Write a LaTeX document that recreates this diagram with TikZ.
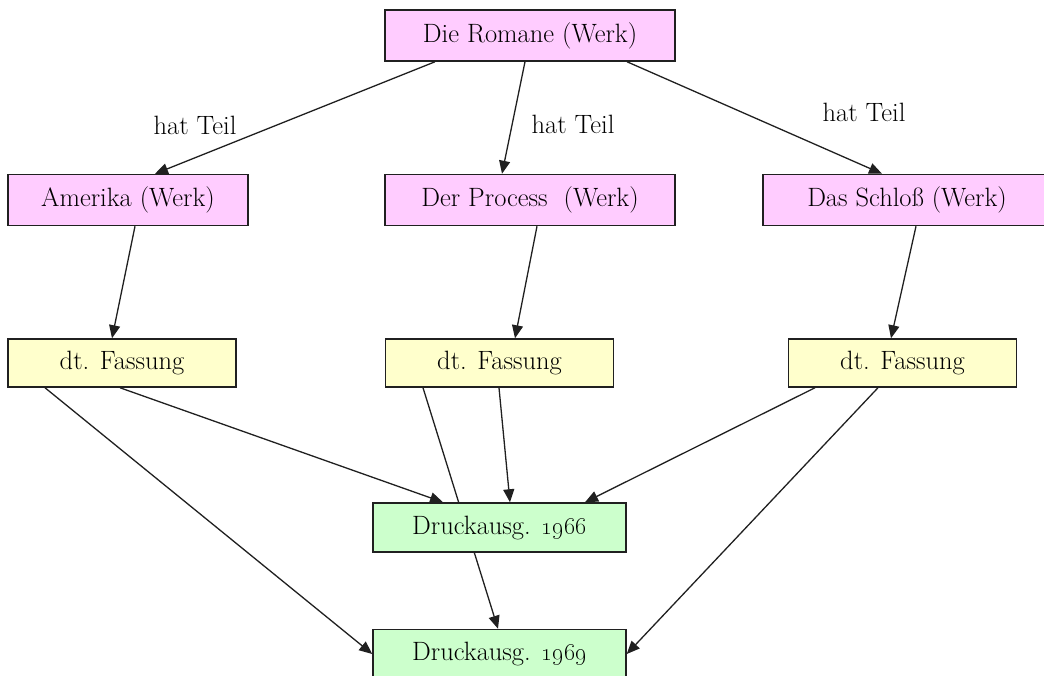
\documentclass[tikz,border=0pt]{standalone}
\usepackage{xcolor}
\usepackage{tikz}
\usetikzlibrary{arrows.meta,backgrounds}
\definecolor{CFFCCFF}{HTML}{FFCCFF}
\definecolor{CFFFFCC}{HTML}{FFFFCC}
\definecolor{CCCFFCC}{HTML}{CCFFCC}
\definecolor{C202020}{HTML}{202020}

\begin{document}
\begin{tikzpicture}[inner sep=0pt,
  box/.style={draw=C202020, line width=1.5pt, shape=rectangle, align=center, font=\fontsize{26.5}{30}\selectfont},
  werk/.style={box, fill=CFFCCFF, minimum height=51pt},
  fassung/.style={box, fill=CFFFFCC, minimum height=48pt, minimum width=228pt},
  druck/.style={box, fill=CCCFFCC, minimum height=49pt, minimum width=253pt},
  lbl/.style={font=\fontsize{26.5}{30}\selectfont},
  edge/.style={-{Triangle[length=13pt,width=11pt]}, line width=1.3pt, draw=C202020}]
\useasboundingbox (0pt,0pt) rectangle (1044pt,-675pt);

\node (n0) [werk, minimum width=290pt, at={(530pt,-35.5pt)}] {Die Romane (Werk)};
\node (n1) [werk, minimum width=240pt, at={(128pt,-200pt)}] {Amerika (Werk)};
\node (n2) [werk, minimum width=290pt, at={(530pt,-200pt)}] {Der Process\ \ (Werk)};
\node (n3) [werk, minimum width=288pt, at={(907pt,-200pt)}] {Das Schloß (Werk)};
\node (n4) [fassung, at={(122pt,-363pt)}] {dt. Fassung};
\node (n5) [fassung, at={(499.5pt,-363pt)}] {dt. Fassung};
\node (n6) [fassung, at={(902.5pt,-363pt)}] {dt. Fassung};
\node (n7) [druck, at={(499.5pt,-527.5pt)}] {Druckausg. \oldstylenums{1966}};
\node (n8) [druck, at={(499.5pt,-654pt)}] {Druckausg. \oldstylenums{1969}};

\node (l01) [lbl, at={(195pt,-125pt)}] {hat Teil};
\node (l02) [lbl, at={(573pt,-124pt)}] {hat Teil};
\node (l03) [lbl, at={(864pt,-112pt)}] {hat Teil};

% edges below the boxes
\begin{scope}[on background layer]
\path [edge] ([xshift=-95pt]n0.south) -- ([xshift=27pt]n1.north);
\path [edge] ([xshift=-5pt]n0.south) -- ([xshift=-28pt]n2.north);
\path [edge] ([xshift=97pt]n0.south) -- ([xshift=-25pt]n3.north);
\path [edge] ([xshift=7pt]n1.south) -- ([xshift=-10pt]n4.north);
\path [edge] ([xshift=7pt]n2.south) -- ([xshift=15.5pt]n5.north);
\path [edge] ([xshift=9pt]n3.south) -- ([xshift=-11.5pt]n6.north);
\path [edge] ([xshift=-2pt]n4.south) -- ([xshift=-56.5pt]n7.north);
\path [edge] ([xshift=-77pt]n4.south) -- (n8.west);
\path [edge] ([xshift=-0.5pt]n5.south) -- ([xshift=10.5pt]n7.north);
\path [edge] ([xshift=-76.5pt]n5.south) -- ([xshift=-1.5pt]n8.north);
\path [edge] ([xshift=-87.5pt]n6.south) -- ([xshift=85.5pt]n7.north);
\path [edge] ([xshift=-24.5pt]n6.south) -- (n8.east);
\end{scope}
\end{tikzpicture}
\end{document}
